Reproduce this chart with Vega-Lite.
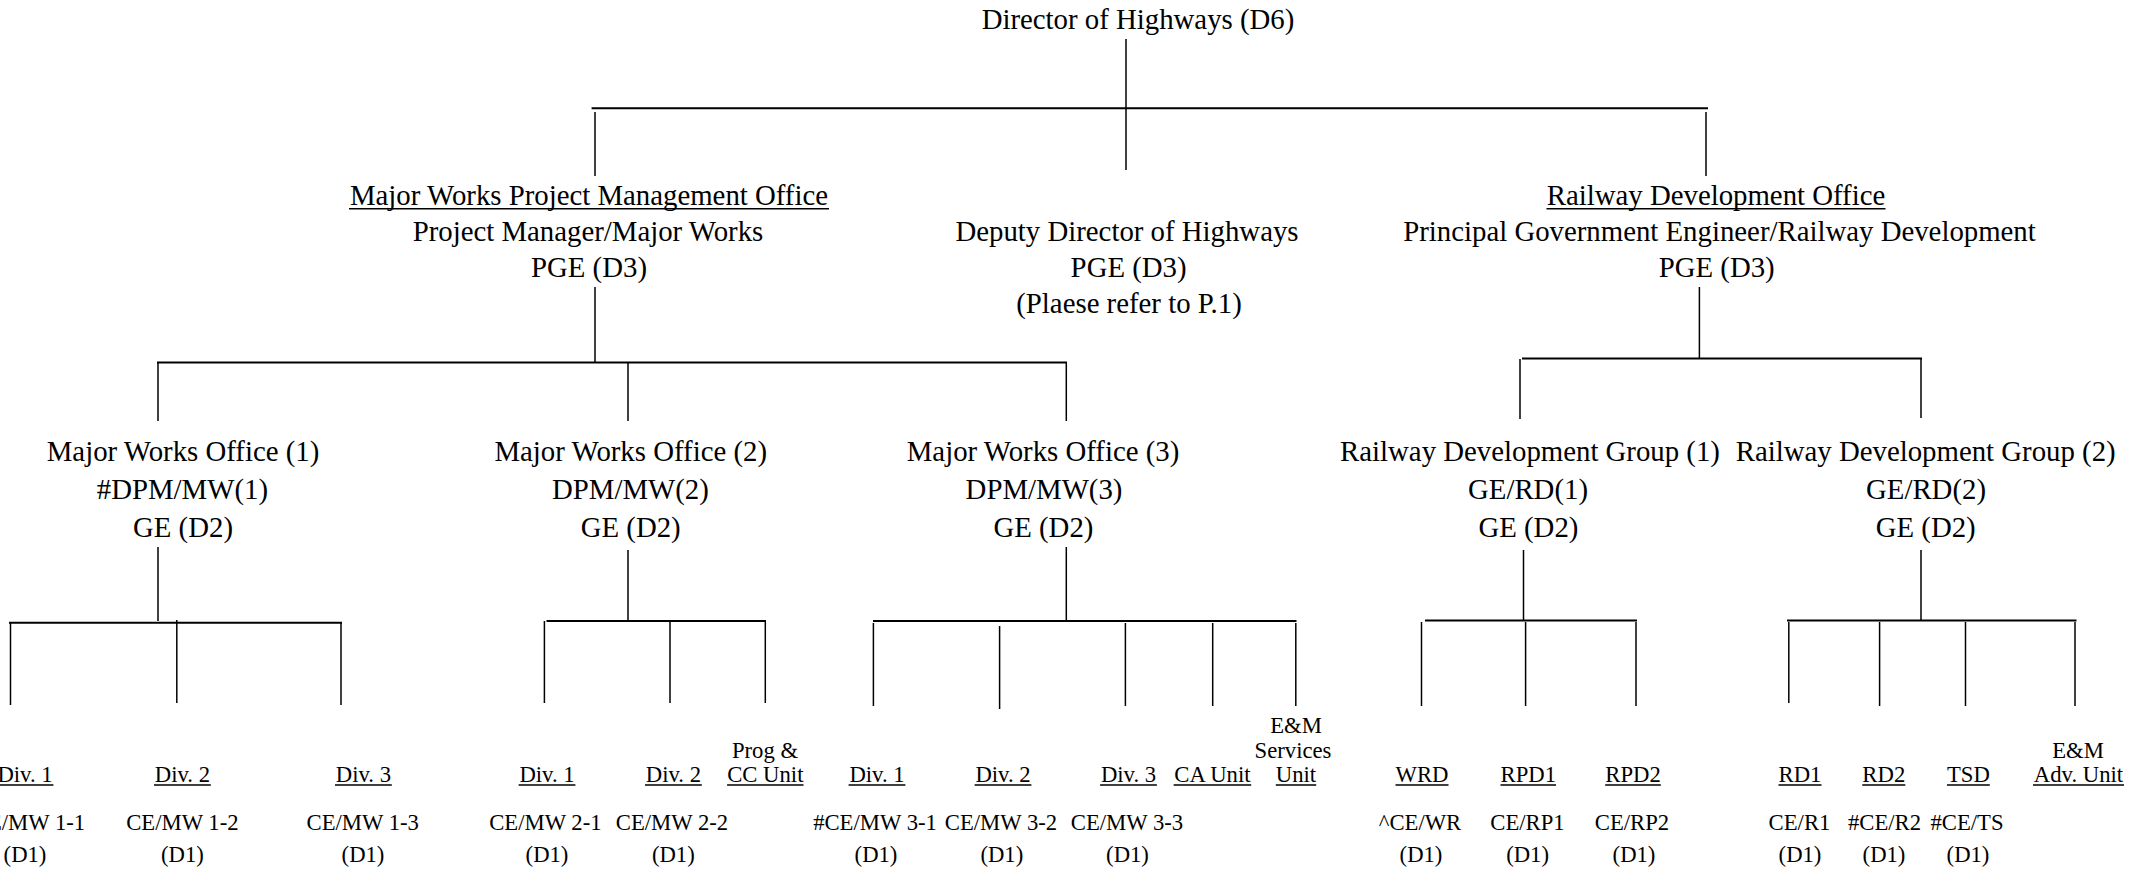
{
  "$schema": "https://vega.github.io/schema/vega-lite/v6.json",
  "width": 2145,
  "height": 874,
  "padding": 0,
  "autosize": {"type": "none"},
  "background": "white",
  "config": {"view": {"stroke": null}},
  "datasets": {
    "stems": [
      {"x": 1126, "y1": 39, "y2": 170},
      {"x": 595, "y1": 112, "y2": 176},
      {"x": 1706, "y1": 112, "y2": 176},
      {"x": 595, "y1": 287, "y2": 362},
      {"x": 1699.4, "y1": 287, "y2": 358},
      {"x": 158, "y1": 363, "y2": 421},
      {"x": 628, "y1": 363, "y2": 421},
      {"x": 1066.3, "y1": 363, "y2": 421},
      {"x": 1520, "y1": 359, "y2": 419},
      {"x": 1921, "y1": 359, "y2": 418},
      {"x": 158, "y1": 547, "y2": 621},
      {"x": 628, "y1": 550, "y2": 621},
      {"x": 1066.3, "y1": 547, "y2": 621},
      {"x": 1523.5, "y1": 550, "y2": 620},
      {"x": 1921, "y1": 550, "y2": 620},
      {"x": 10.5, "y1": 623, "y2": 705},
      {"x": 176.8, "y1": 620, "y2": 703},
      {"x": 341, "y1": 623, "y2": 705},
      {"x": 544.4, "y1": 621, "y2": 703},
      {"x": 670, "y1": 621, "y2": 703},
      {"x": 765.3, "y1": 621, "y2": 703},
      {"x": 873.4, "y1": 623, "y2": 706},
      {"x": 999.6, "y1": 626, "y2": 709},
      {"x": 1125.4, "y1": 623, "y2": 706},
      {"x": 1212.7, "y1": 623, "y2": 706},
      {"x": 1295.8, "y1": 623, "y2": 706},
      {"x": 1421.5, "y1": 622, "y2": 706},
      {"x": 1525.6, "y1": 622, "y2": 706},
      {"x": 1636, "y1": 622, "y2": 706},
      {"x": 1788.8, "y1": 622, "y2": 703},
      {"x": 1879.6, "y1": 622, "y2": 706},
      {"x": 1965.5, "y1": 622, "y2": 706},
      {"x": 2075, "y1": 622, "y2": 706}
    ],
    "bars": [
      {"x1": 591.6, "x2": 1708, "y": 108.3},
      {"x1": 157, "x2": 1067, "y": 362.5},
      {"x1": 1522, "x2": 1922, "y": 358.5},
      {"x1": 9, "x2": 342, "y": 622.7},
      {"x1": 546.5, "x2": 766, "y": 621},
      {"x1": 873, "x2": 1296.5, "y": 621},
      {"x1": 1425, "x2": 1637, "y": 620.5},
      {"x1": 1787, "x2": 2076.5, "y": 620.5}
    ],
    "underlines": [
      {"x1": 349, "x2": 829, "y": 208.8},
      {"x1": 1546.5, "x2": 1885.5, "y": 208.8},
      {"x1": -3.4, "x2": 53.4, "y": 785},
      {"x1": 154, "x2": 210.8, "y": 785},
      {"x1": 335, "x2": 391.8, "y": 785},
      {"x1": 518.6, "x2": 575.4, "y": 785},
      {"x1": 645, "x2": 701.8, "y": 785},
      {"x1": 727.1, "x2": 803.5, "y": 785},
      {"x1": 848.6, "x2": 905.4, "y": 785},
      {"x1": 974.6, "x2": 1031.4, "y": 785},
      {"x1": 1100.1, "x2": 1156.9, "y": 785},
      {"x1": 1173.6, "x2": 1251.2, "y": 785},
      {"x1": 1275.8, "x2": 1316.2, "y": 785},
      {"x1": 1395.5, "x2": 1448.5, "y": 785},
      {"x1": 1500.5, "x2": 1556, "y": 785},
      {"x1": 1605.2, "x2": 1660.8, "y": 785},
      {"x1": 1778.5, "x2": 1821.5, "y": 785},
      {"x1": 1862.3, "x2": 1905.3, "y": 785},
      {"x1": 1947, "x2": 1989.8, "y": 785},
      {"x1": 2033, "x2": 2124, "y": 785}
    ],
    "labels": [
      {"label": "Director of Highways (D6)", "x": 1138, "y": 28.5, "tier": "upper"},
      {"label": "Major Works Project Management Office", "x": 589, "y": 205, "tier": "upper"},
      {"label": "Project Manager/Major Works", "x": 588, "y": 241, "tier": "upper"},
      {"label": "PGE (D3)", "x": 589, "y": 277, "tier": "upper"},
      {"label": "Deputy Director of Highways", "x": 1127, "y": 241, "tier": "upper"},
      {"label": "PGE (D3)", "x": 1128.6, "y": 277, "tier": "upper"},
      {"label": "(Plaese refer to P.1)", "x": 1129, "y": 313, "tier": "upper"},
      {"label": "Railway Development Office", "x": 1716, "y": 205, "tier": "upper"},
      {"label": "Principal Government Engineer/Railway Development", "x": 1719.5, "y": 241, "tier": "upper"},
      {"label": "PGE (D3)", "x": 1716.7, "y": 277, "tier": "upper"},
      {"label": "Major Works Office (1)", "x": 183, "y": 461, "tier": "upper"},
      {"label": "#DPM/MW(1)", "x": 182.4, "y": 499, "tier": "upper"},
      {"label": "GE (D2)", "x": 183, "y": 537, "tier": "upper"},
      {"label": "Major Works Office (2)", "x": 630.7, "y": 461, "tier": "upper"},
      {"label": "DPM/MW(2)", "x": 630.4, "y": 499, "tier": "upper"},
      {"label": "GE (D2)", "x": 630.7, "y": 537, "tier": "upper"},
      {"label": "Major Works Office (3)", "x": 1043, "y": 461, "tier": "upper"},
      {"label": "DPM/MW(3)", "x": 1044, "y": 499, "tier": "upper"},
      {"label": "GE (D2)", "x": 1043.4, "y": 537, "tier": "upper"},
      {"label": "Railway Development Group (1)", "x": 1530, "y": 461, "tier": "upper"},
      {"label": "GE/RD(1)", "x": 1528, "y": 499, "tier": "upper"},
      {"label": "GE (D2)", "x": 1528.4, "y": 537, "tier": "upper"},
      {"label": "Railway Development Group (2)", "x": 1925.7, "y": 461, "tier": "upper"},
      {"label": "GE/RD(2)", "x": 1926, "y": 499, "tier": "upper"},
      {"label": "GE (D2)", "x": 1925.7, "y": 537, "tier": "upper"},
      {"label": "Div. 1", "x": 25, "y": 782, "tier": "lower"},
      {"label": "CE/MW 1-1", "x": 29, "y": 830, "tier": "lower"},
      {"label": "(D1)", "x": 25, "y": 862, "tier": "lower"},
      {"label": "Div. 2", "x": 182.4, "y": 782, "tier": "lower"},
      {"label": "CE/MW 1-2", "x": 182.4, "y": 830, "tier": "lower"},
      {"label": "(D1)", "x": 182.4, "y": 862, "tier": "lower"},
      {"label": "Div. 3", "x": 363.4, "y": 782, "tier": "lower"},
      {"label": "CE/MW 1-3", "x": 362.7, "y": 830, "tier": "lower"},
      {"label": "(D1)", "x": 363, "y": 862, "tier": "lower"},
      {"label": "Div. 1", "x": 547, "y": 782, "tier": "lower"},
      {"label": "CE/MW 2-1", "x": 545.4, "y": 830, "tier": "lower"},
      {"label": "(D1)", "x": 547, "y": 862, "tier": "lower"},
      {"label": "Div. 2", "x": 673.4, "y": 782, "tier": "lower"},
      {"label": "CE/MW 2-2", "x": 672, "y": 830, "tier": "lower"},
      {"label": "(D1)", "x": 673.3, "y": 862, "tier": "lower"},
      {"label": "Prog &", "x": 765, "y": 757.5, "tier": "lower"},
      {"label": "CC Unit", "x": 765.3, "y": 782, "tier": "lower"},
      {"label": "Div. 1", "x": 877, "y": 782, "tier": "lower"},
      {"label": "#CE/MW 3-1", "x": 875, "y": 830, "tier": "lower"},
      {"label": "(D1)", "x": 876, "y": 862, "tier": "lower"},
      {"label": "Div. 2", "x": 1003, "y": 782, "tier": "lower"},
      {"label": "CE/MW 3-2", "x": 1001, "y": 830, "tier": "lower"},
      {"label": "(D1)", "x": 1001.8, "y": 862, "tier": "lower"},
      {"label": "Div. 3", "x": 1128.5, "y": 782, "tier": "lower"},
      {"label": "CE/MW 3-3", "x": 1127, "y": 830, "tier": "lower"},
      {"label": "(D1)", "x": 1127.5, "y": 862, "tier": "lower"},
      {"label": "CA Unit", "x": 1212.4, "y": 782, "tier": "lower"},
      {"label": "E&M", "x": 1296, "y": 733, "tier": "lower"},
      {"label": "Services", "x": 1293, "y": 757.5, "tier": "lower"},
      {"label": "Unit", "x": 1296, "y": 782, "tier": "lower"},
      {"label": "WRD", "x": 1422, "y": 782, "tier": "lower"},
      {"label": "^CE/WR", "x": 1420, "y": 830, "tier": "lower"},
      {"label": "(D1)", "x": 1421, "y": 862, "tier": "lower"},
      {"label": "RPD1", "x": 1528.3, "y": 782, "tier": "lower"},
      {"label": "CE/RP1", "x": 1527.5, "y": 830, "tier": "lower"},
      {"label": "(D1)", "x": 1527.6, "y": 862, "tier": "lower"},
      {"label": "RPD2", "x": 1633, "y": 782, "tier": "lower"},
      {"label": "CE/RP2", "x": 1632, "y": 830, "tier": "lower"},
      {"label": "(D1)", "x": 1634, "y": 862, "tier": "lower"},
      {"label": "RD1", "x": 1800, "y": 782, "tier": "lower"},
      {"label": "CE/R1", "x": 1799.5, "y": 830, "tier": "lower"},
      {"label": "(D1)", "x": 1800, "y": 862, "tier": "lower"},
      {"label": "RD2", "x": 1883.8, "y": 782, "tier": "lower"},
      {"label": "#CE/R2", "x": 1884.5, "y": 830, "tier": "lower"},
      {"label": "(D1)", "x": 1884, "y": 862, "tier": "lower"},
      {"label": "TSD", "x": 1968.4, "y": 782, "tier": "lower"},
      {"label": "#CE/TS", "x": 1967, "y": 830, "tier": "lower"},
      {"label": "(D1)", "x": 1968, "y": 862, "tier": "lower"},
      {"label": "E&M", "x": 2078, "y": 757.5, "tier": "lower"},
      {"label": "Adv. Unit", "x": 2078.5, "y": 782, "tier": "lower"}
    ]
  },
  "layer": [
    {
      "data": {"name": "stems"},
      "mark": {"type": "rule", "color": "black", "strokeWidth": 1.5},
      "encoding": {
        "x": {"field": "x", "type": "quantitative", "scale": {"domain": [0, 2145], "nice": false, "zero": false}, "axis": null},
        "y": {"field": "y1", "type": "quantitative", "scale": {"domain": [0, 874], "nice": false, "zero": false, "reverse": true}, "axis": null},
        "y2": {"field": "y2"}
      }
    },
    {
      "data": {"name": "bars"},
      "mark": {"type": "rule", "color": "black", "strokeWidth": 2},
      "encoding": {
        "x": {"field": "x1", "type": "quantitative", "scale": {"domain": [0, 2145], "nice": false, "zero": false}, "axis": null},
        "x2": {"field": "x2"},
        "y": {"field": "y", "type": "quantitative", "scale": {"domain": [0, 874], "nice": false, "zero": false, "reverse": true}, "axis": null}
      }
    },
    {
      "data": {"name": "underlines"},
      "mark": {"type": "rule", "color": "black", "strokeWidth": 1.6},
      "encoding": {
        "x": {"field": "x1", "type": "quantitative", "scale": {"domain": [0, 2145], "nice": false, "zero": false}, "axis": null},
        "x2": {"field": "x2"},
        "y": {"field": "y", "type": "quantitative", "scale": {"domain": [0, 874], "nice": false, "zero": false, "reverse": true}, "axis": null}
      }
    },
    {
      "data": {"name": "labels"},
      "transform": [{"filter": "datum.tier === 'upper'"}],
      "mark": {"type": "text", "font": "Liberation Serif", "fontSize": 28.8, "baseline": "alphabetic", "align": "center", "color": "black"},
      "encoding": {
        "x": {"field": "x", "type": "quantitative", "scale": {"domain": [0, 2145], "nice": false, "zero": false}, "axis": null},
        "y": {"field": "y", "type": "quantitative", "scale": {"domain": [0, 874], "nice": false, "zero": false, "reverse": true}, "axis": null},
        "text": {"field": "label", "type": "nominal"}
      }
    },
    {
      "data": {"name": "labels"},
      "transform": [{"filter": "datum.tier === 'lower'"}],
      "mark": {"type": "text", "font": "Liberation Serif", "fontSize": 22.7, "baseline": "alphabetic", "align": "center", "color": "black"},
      "encoding": {
        "x": {"field": "x", "type": "quantitative", "scale": {"domain": [0, 2145], "nice": false, "zero": false}, "axis": null},
        "y": {"field": "y", "type": "quantitative", "scale": {"domain": [0, 874], "nice": false, "zero": false, "reverse": true}, "axis": null},
        "text": {"field": "label", "type": "nominal"}
      }
    }
  ]
}
